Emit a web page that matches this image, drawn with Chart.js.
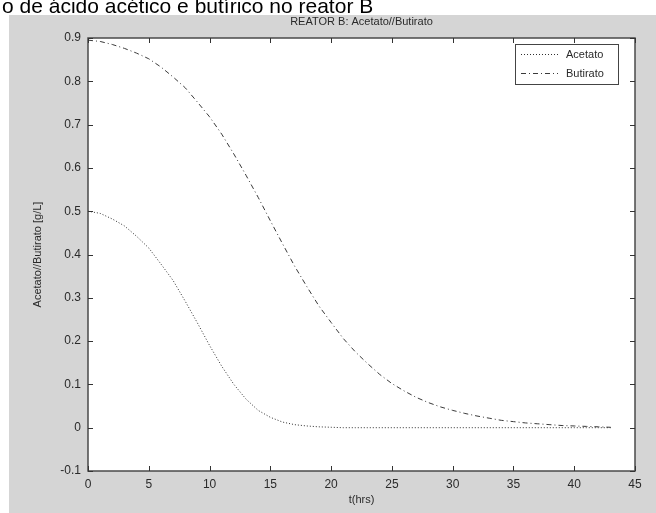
<!DOCTYPE html>
<html>
<head>
<meta charset="utf-8">
<script src="https://cdn.jsdelivr.net/npm/chart.js@4/dist/chart.umd.min.js"></script>
<style>
  html, body { margin: 0; padding: 0; background: #fff; }
  #wrap { width: 656px; height: 513px; }
</style>
</head>
<body>
<div id="wrap"><canvas id="c" width="656" height="513"></canvas></div>
<script>
// t in hours
const tHours = [0, 1, 2, 3, 4, 5, 6, 7, 8, 9, 10, 11, 12, 13, 14, 15, 16, 17, 18, 19, 20, 21,
  22, 23, 24, 25, 26, 27, 28, 29, 30, 31, 32, 33, 34, 35, 36, 37, 38, 39, 40, 41, 42, 43];
const acetato = [0.500, 0.495, 0.482, 0.466, 0.442, 0.415, 0.378, 0.340, 0.292, 0.242, 0.190,
  0.142, 0.100, 0.066, 0.040, 0.024, 0.013, 0.007, 0.004, 0.002, 0.001, 0, 0, 0, 0, 0, 0, 0,
  0, 0, 0, 0, 0, 0, 0, 0, 0, 0, 0, 0, 0, 0, 0, 0];
const butirato = [0.895, 0.892, 0.885, 0.876, 0.865, 0.852, 0.833, 0.810, 0.785, 0.752, 0.718,
  0.678, 0.632, 0.583, 0.532, 0.478, 0.425, 0.373, 0.326, 0.281, 0.243, 0.206, 0.175, 0.148,
  0.123, 0.102, 0.085, 0.070, 0.058, 0.048, 0.040, 0.033, 0.027, 0.022, 0.017, 0.014, 0.011,
  0.009, 0.007, 0.005, 0.004, 0.003, 0.002, 0.001];
const xTicks = [0, 5, 10, 15, 20, 25, 30, 35, 40, 45];
const yTicks = [-0.1, 0, 0.1, 0.2, 0.3, 0.4, 0.5, 0.6, 0.7, 0.8, 0.9];

const pageCaption = 'o de ácido acético e butírico no reator B';
const plotTitle = 'REATOR B: Acetato//Butirato';
const xLabel = 't(hrs)';
const yLabel = 'Acetato//Butirato [g/L]';

const FONT = '"Liberation Sans", Arial, sans-serif';
const figGray = '#d5d5d5';
const textCol = '#2a2a2a';

const series = [
  { label: 'Acetato', values: acetato, dash: [1, 2], color: '#303030' },
  { label: 'Butirato', values: butirato, dash: [5, 3, 1, 3], color: '#3a3a3a' }
];

// figure background, frame, inward ticks, titles, legend
const matlabLook = {
  id: 'matlabLook',
  beforeDraw(chart) {
    const ctx = chart.ctx;
    const a = chart.chartArea;
    ctx.save();
    ctx.fillStyle = '#fff';
    ctx.fillRect(0, 0, chart.width, chart.height);
    ctx.fillStyle = figGray;
    ctx.fillRect(9, 15, chart.width - 9, chart.height - 15);
    ctx.fillStyle = '#fff';
    ctx.fillRect(a.left, a.top, a.right - a.left, a.bottom - a.top);
    // page caption, cut at the top
    ctx.fillStyle = '#000';
    ctx.font = '21px ' + FONT;
    ctx.textBaseline = 'alphabetic';
    ctx.textAlign = 'left';
    ctx.fillText(pageCaption, 2, 13);
    ctx.restore();
  },
  afterDraw(chart) {
    const ctx = chart.ctx;
    const a = chart.chartArea;
    const xs = chart.scales.x;
    const ys = chart.scales.y;
    ctx.save();
    ctx.strokeStyle = '#4a4a4a';
    ctx.lineWidth = 1.5;
    ctx.strokeRect(a.left, a.top, a.right - a.left, a.bottom - a.top);
    ctx.lineWidth = 1;
    ctx.strokeStyle = '#333';
    ctx.beginPath();
    xTicks.forEach(v => {
      const px = Math.round(xs.getPixelForValue(v)) + 0.5;
      ctx.moveTo(px, a.bottom); ctx.lineTo(px, a.bottom - 5);
      ctx.moveTo(px, a.top); ctx.lineTo(px, a.top + 5);
    });
    yTicks.forEach(v => {
      const py = Math.round(ys.getPixelForValue(v)) + 0.5;
      ctx.moveTo(a.left, py); ctx.lineTo(a.left + 5, py);
      ctx.moveTo(a.right, py); ctx.lineTo(a.right - 5, py);
    });
    ctx.stroke();

    // titles
    ctx.fillStyle = textCol;
    ctx.font = '11px ' + FONT;
    ctx.textAlign = 'center';
    ctx.textBaseline = 'middle';
    ctx.fillText(plotTitle, (a.left + a.right) / 2, 22);
    ctx.fillText(xLabel, (a.left + a.right) / 2, 500);
    ctx.translate(38, (a.top + a.bottom) / 2);
    ctx.rotate(-Math.PI / 2);
    ctx.fillText(yLabel, 0, 0);
    ctx.restore();

    // legend box
    ctx.save();
    const lx = 515, ly = 44, lw = 103, lh = 40;
    ctx.fillStyle = '#fff';
    ctx.fillRect(lx, ly, lw, lh);
    ctx.strokeStyle = '#444';
    ctx.lineWidth = 1;
    ctx.strokeRect(lx + 0.5, ly + 0.5, lw, lh);
    ctx.font = '11px ' + FONT;
    ctx.textAlign = 'left';
    ctx.textBaseline = 'middle';
    series.forEach((s, i) => {
      const yy = ly + 10.5 + i * 19;
      ctx.strokeStyle = s.color;
      ctx.setLineDash(s.dash);
      ctx.beginPath();
      ctx.moveTo(lx + 6, yy); ctx.lineTo(lx + 43, yy);
      ctx.stroke();
      ctx.setLineDash([]);
      ctx.fillStyle = textCol;
      ctx.fillText(s.label, lx + 51, yy);
    });
    ctx.restore();
  }
};

new Chart(document.getElementById('c'), {
  type: 'line',
  data: {
    datasets: series.map(s => ({
      label: s.label,
      data: tHours.map((t, i) => ({ x: t, y: s.values[i] })),
      borderColor: s.color,
      borderWidth: 1,
      borderDash: s.dash,
      pointRadius: 0,
      fill: false,
      tension: 0
    }))
  },
  options: {
    responsive: false,
    animation: false,
    layout: { padding: { left: 0, top: 38, right: 21, bottom: 0 } },
    plugins: {
      legend: { display: false },
      title: { display: false },
      tooltip: { enabled: false }
    },
    scales: {
      x: {
        type: 'linear',
        min: 0,
        max: 45,
        afterBuildTicks: scale => { scale.ticks = xTicks.map(v => ({ value: v })); },
        afterFit: scale => { scale.height = 42; },
        grid: { display: false, drawTicks: false },
        border: { display: false },
        ticks: {
          padding: 6,
          color: textCol,
          font: { family: FONT, size: 12 },
          maxRotation: 0
        }
      },
      y: {
        min: -0.1,
        max: 0.9,
        afterBuildTicks: scale => { scale.ticks = yTicks.map(v => ({ value: v })); },
        afterFit: scale => { scale.width = 88; },
        grid: { display: false, drawTicks: false },
        border: { display: false },
        ticks: {
          padding: 7,
          color: textCol,
          font: { family: FONT, size: 12 },
          callback: v => (Math.abs(v) < 1e-9 ? '0' : String(Math.round(v * 10) / 10))
        }
      }
    }
  },
  plugins: [matlabLook]
});
</script>
</body>
</html>
